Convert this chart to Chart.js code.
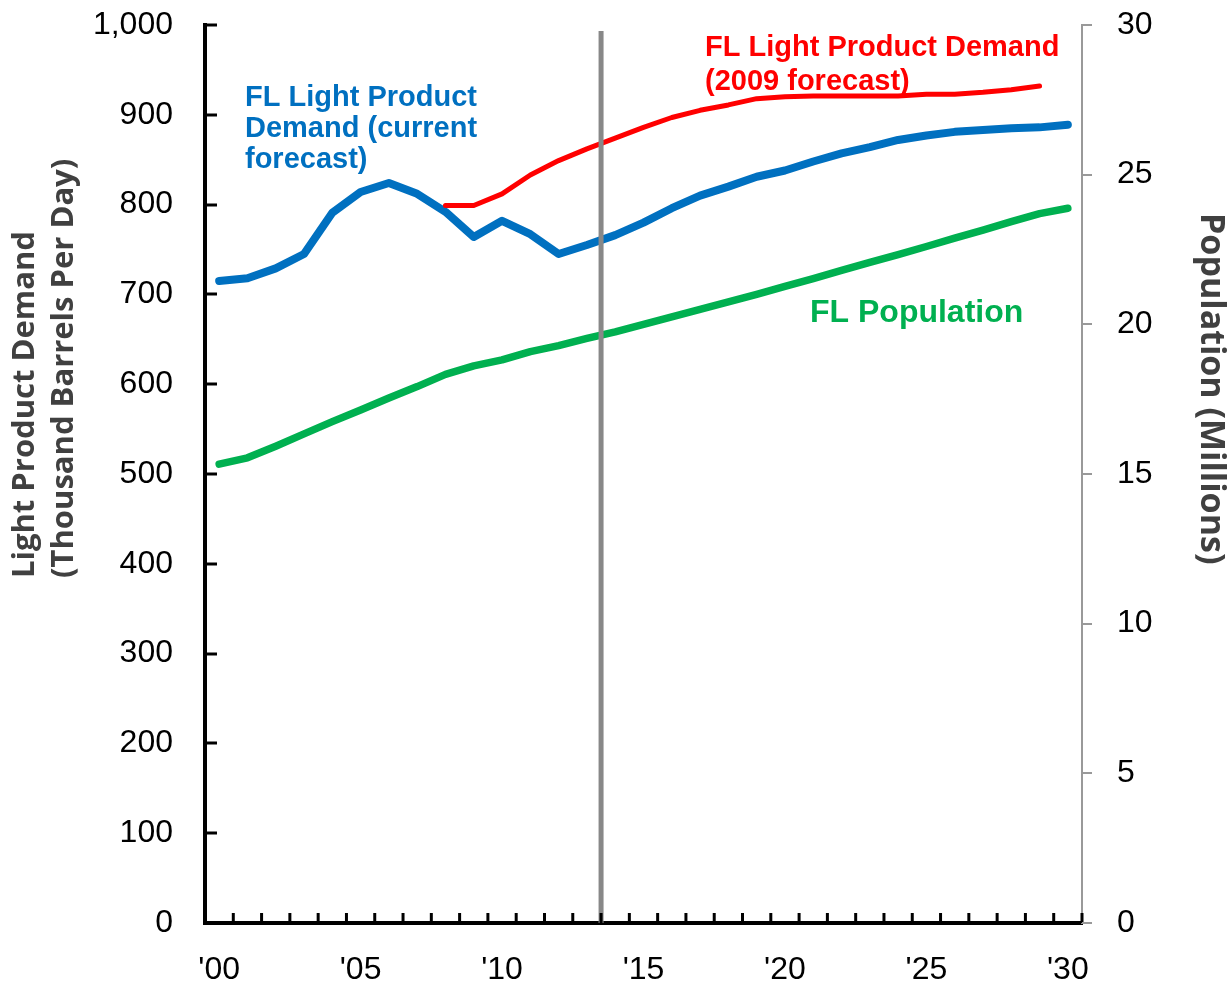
<!DOCTYPE html>
<html>
<head>
<meta charset="utf-8">
<title>FL Light Product Demand</title>
<script src="https://cdn.jsdelivr.net/npm/chart.js@4.4.1/dist/chart.umd.min.js"></script>
<style>
    body { margin: 0; background: #ffffff; }
    #wrap { width: 1231px; height: 983px; position: relative; }
</style>
</head>
<body>
<div id="wrap"><canvas id="graficaDemanda"></canvas></div>
<script>
// Data:
const years = ["'00", "'01", "'02", "'03", "'04", "'05", "'06", "'07", "'08", "'09",
               "'10", "'11", "'12", "'13", "'14", "'15", "'16", "'17", "'18", "'19",
               "'20", "'21", "'22", "'23", "'24", "'25", "'26", "'27", "'28", "'29", "'30"];

// Thousand barrels per day (left axis)
const demandCurrent = [715, 718, 729, 745, 791, 814, 824, 812, 792, 764,
                       782, 767, 745, 755, 766, 780, 796, 810, 820, 831,
                       838, 848, 857, 864, 872, 877, 881, 883, 885, 886, 889];

const demand2009 = [null, null, null, null, null, null, null, null, 799, 799,
                    812, 833, 849, 862, 874, 886, 897, 905, 911, 918,
                    920, 921, 921, 921, 921, 923, 923, 925, 928, 932, null];

// Millions (right axis)
const population = [15.33, 15.54, 15.93, 16.34, 16.75, 17.14, 17.54, 17.92, 18.33, 18.61,
                    18.81, 19.09, 19.29, 19.53, 19.75, 20.0, 20.25, 20.5, 20.75, 21.0,
                    21.27, 21.53, 21.8, 22.07, 22.33, 22.6, 22.88, 23.15, 23.43, 23.7, 23.88];

const demandTicks = { min: 0, max: 1000, step: 100 };
const populationTicks = { min: 0, max: 30, step: 5 };

// Split between history and forecast ('13 / '14)
const forecastDivider = 13.5;

const leftTitle = ["Light Product Demand", "(Thousand Barrels Per Day)"];
const rightTitle = "Population (Millions)";

const notes = [
    { lines: ["FL Light Product", "Demand (current", "forecast)"], color: "#0070C0", x: 245, y: 106, step: 31, size: 29 },
    { lines: ["FL Light Product Demand", "(2009 forecast)"], color: "#FF0000", x: 705, y: 56, step: 34, size: 29 },
    { lines: ["FL Population"], color: "#00B050", x: 810, y: 322, step: 34, size: 32 }
];

// Remove label overhang so the plot area keeps its place:
function fixScale(width, height)
{
    return function (scale)
    {
        if (width) scale.width = width;
        if (height) scale.height = height;
        scale.paddingTop = 0;
        scale.paddingBottom = 0;
        scale.paddingLeft = 0;
        scale.paddingRight = 0;
    };
}

// Ticks, divider, titles and notes:
const extrasPlugin = {
    id: "extras",
    afterDatasetsDraw: function (chart)
    {
        const ctx = chart.ctx;
        const area = chart.chartArea;
        const x = chart.scales.x;
        const y = chart.scales.y;
        const y2 = chart.scales.y2;

        ctx.save();

        // Forecast divider
        const lo = Math.floor(forecastDivider);
        const f = forecastDivider - lo;
        const xd = x.getPixelForValue(lo) * (1 - f) + x.getPixelForValue(lo + 1) * f;
        ctx.strokeStyle = "#888888";
        ctx.lineWidth = 5;
        ctx.beginPath();
        ctx.moveTo(xd, area.top + 6);
        ctx.lineTo(xd, area.bottom);
        ctx.stroke();

        // Left axis inner ticks
        ctx.strokeStyle = "#000000";
        ctx.lineWidth = 3;
        y.ticks.forEach(function (t) {
            const py = Math.round(y.getPixelForValue(t.value));
            ctx.beginPath();
            ctx.moveTo(area.left, py);
            ctx.lineTo(area.left + 12, py);
            ctx.stroke();
        });

        // Bottom axis inner ticks between categories
        for (let i = 1; i <= years.length; i++)
        {
            let px = area.right;
            if (i < years.length) px = (x.getPixelForValue(i - 1) + x.getPixelForValue(i)) / 2;
            ctx.beginPath();
            ctx.moveTo(px, area.bottom);
            ctx.lineTo(px, area.bottom - 10);
            ctx.stroke();
        }

        // Right axis outer ticks
        ctx.strokeStyle = "#999999";
        ctx.lineWidth = 2;
        y2.ticks.forEach(function (t) {
            const py = Math.round(y2.getPixelForValue(t.value));
            ctx.beginPath();
            ctx.moveTo(area.right, py);
            ctx.lineTo(area.right + 10, py);
            ctx.stroke();
        });

        // Axis titles
        ctx.fillStyle = "#404040";
        ctx.font = "bold 31px 'Open Sans'";
        ctx.textAlign = "left";
        ctx.textBaseline = "alphabetic";
        leftTitle.forEach(function (line, i) {
            ctx.save();
            ctx.translate(34 + i * 39, 578);
            ctx.rotate(-Math.PI / 2);
            ctx.fillText(line, 0, 0);
            ctx.restore();
        });
        ctx.save();
        ctx.translate(1201, 213);
        ctx.rotate(Math.PI / 2);
        ctx.font = "bold 34px 'Open Sans'";
        ctx.fillText(rightTitle, 0, 0);
        ctx.restore();

        // Series notes
        notes.forEach(function (n) {
            ctx.fillStyle = n.color;
            ctx.font = "bold " + n.size + "px 'Liberation Sans'";
            n.lines.forEach(function (line, i) {
                ctx.fillText(line, n.x, n.y + i * n.step);
            });
        });

        ctx.restore();
    }
};

// Draw chart:
function drawChart(canvas)
{
    const ctx = document.getElementById(canvas).getContext("2d");
    const tickFont = { family: "Liberation Sans", size: 32 };

    return new Chart(ctx, {
        type: "line",
        data: {
            labels: years,
            datasets: [
                { label: "FL Light Product Demand (2009 forecast)", data: demand2009, yAxisID: "y",
                  borderColor: "#FF0000", borderWidth: 5 },
                { label: "FL Light Product Demand (current forecast)", data: demandCurrent, yAxisID: "y",
                  borderColor: "#0070C0", borderWidth: 8 },
                { label: "FL Population", data: population, yAxisID: "y2",
                  borderColor: "#00B050", borderWidth: 7.5 }
            ]
        },
        options: {
            responsive: true,
            maintainAspectRatio: false,
            animation: false,
            elements: {
                point: { radius: 0 },
                line: { tension: 0, borderCapStyle: "round", borderJoinStyle: "round", fill: false }
            },
            layout: { padding: { top: 25, left: 0, right: 0, bottom: 0 } },
            plugins: {
                legend: { display: false },
                tooltip: { enabled: false }
            },
            scales: {
                x: {
                    offset: true,
                    grid: { display: false, drawTicks: false },
                    border: { display: true, color: "#000000", width: 4 },
                    ticks: {
                        autoSkip: false,
                        maxRotation: 0,
                        padding: 28,
                        color: "#000000",
                        font: tickFont,
                        callback: function (value, index) {
                            return index % 5 === 0 ? this.getLabelForValue(value) : "";
                        }
                    },
                    afterFit: fixScale(0, 60)
                },
                y: {
                    position: "left",
                    min: demandTicks.min,
                    max: demandTicks.max,
                    grid: { display: false, drawTicks: false },
                    border: { display: true, color: "#000000", width: 4 },
                    ticks: {
                        stepSize: demandTicks.step,
                        padding: 32,
                        color: "#000000",
                        font: tickFont,
                        callback: function (value) { return value.toLocaleString("en-US"); }
                    },
                    afterFit: fixScale(205, 0)
                },
                y2: {
                    position: "right",
                    min: populationTicks.min,
                    max: populationTicks.max,
                    grid: { display: false, drawTicks: false },
                    border: { display: true, color: "#999999", width: 2 },
                    ticks: {
                        stepSize: populationTicks.step,
                        padding: 35,
                        color: "#000000",
                        font: tickFont
                    },
                    afterFit: fixScale(149, 0)
                }
            }
        },
        plugins: [extrasPlugin]
    });
}

drawChart("graficaDemanda");
</script>
</body>
</html>
